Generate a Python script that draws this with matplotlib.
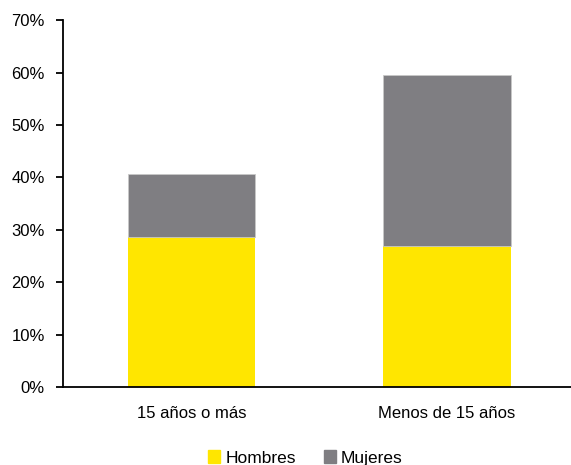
import matplotlib.pyplot as plt
from matplotlib.patches import Patch
from matplotlib.ticker import PercentFormatter

plt.rcParams['font.family'] = ['Liberation Sans', 'DejaVu Sans']

categorias = ['15 años o más', 'Menos de 15 años']
hombres = [28.6, 27.0]
mujeres = [12.0, 32.5]

amarillo = '#FFE600'
gris = '#7F7E82'

fig = plt.figure(figsize=(5.71, 4.65), dpi=100)
ax = fig.add_axes([0.1103, 0.1677, 0.8897, 0.789])

x = range(len(categorias))
ax.bar(x, hombres, width=0.5, color=amarillo, linewidth=0)
ax.bar(x, mujeres, width=0.5, bottom=hombres, color=gris,
       edgecolor='#C8C8C8', linewidth=0.6)

ax.set_xlim(-0.503, 1.485)
ax.set_ylim(0, 70)
ax.set_yticks(range(0, 71, 10))
ax.yaxis.set_major_formatter(PercentFormatter(decimals=0))
ax.set_xticks(list(x))
ax.set_xticklabels(categorias)

for s in ['top', 'right']:
    ax.spines[s].set_visible(False)
for s in ['left', 'bottom']:
    ax.spines[s].set_linewidth(1.3)

ax.tick_params(axis='y', length=5, width=1.3, labelsize=12, pad=8)
ax.tick_params(axis='x', length=0, labelsize=12, pad=14)

handles = [Patch(color=amarillo, label='Hombres'), Patch(color=gris, label='Mujeres')]
fig.legend(handles=handles, loc='lower center', bbox_to_anchor=(0.535, -0.035),
           ncol=2, frameon=False, fontsize=12.5, handlelength=0.7, handleheight=0.7,
           handletextpad=0.3, columnspacing=1.6)

fig.savefig('out.png', dpi=100)
